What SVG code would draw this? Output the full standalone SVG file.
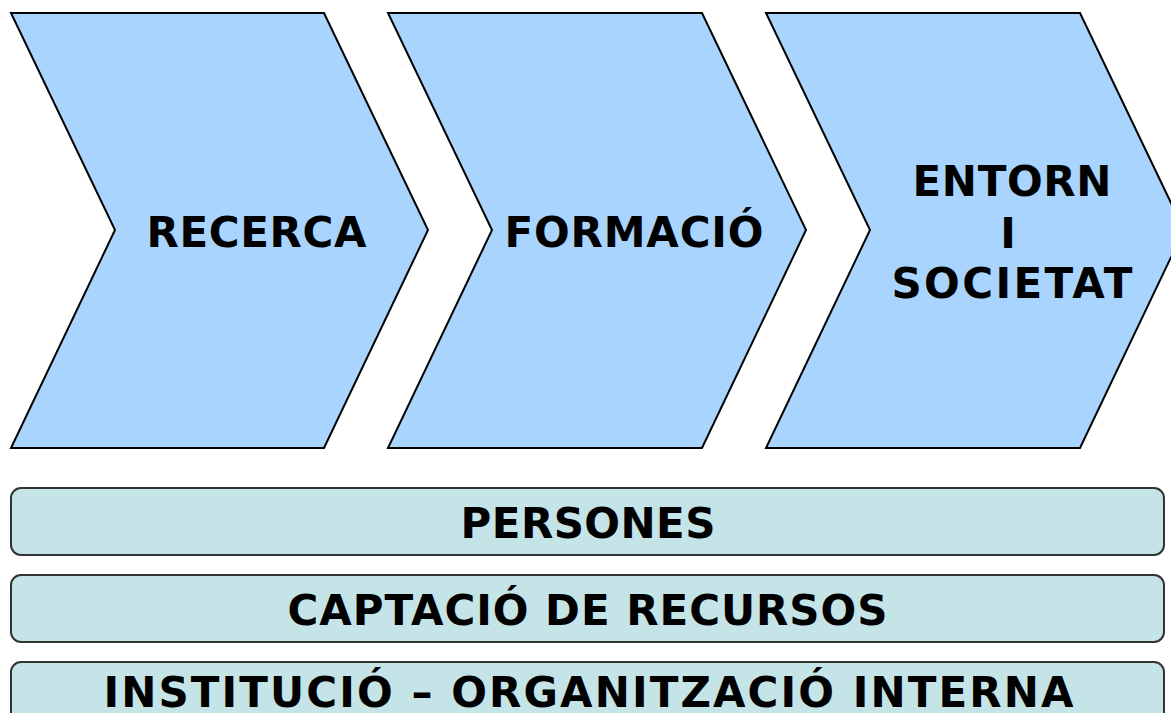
<svg xmlns="http://www.w3.org/2000/svg" width="1171" height="713" viewBox="0 0 1171 713">
<style>
.chev{fill:#a8d4fe;stroke:#000;stroke-width:2;stroke-linejoin:miter}
.bar{fill:#c5e4e8;stroke:#333;stroke-width:2}
text{font-family:"DejaVu Sans",Verdana,sans-serif;font-weight:bold;font-size:42px;fill:#000;text-anchor:middle}
</style>
<rect width="1171" height="713" fill="#fff"/>
<g id="recerca">
<polygon class="chev" points="11,13 324,13 428,230 324,448 11,448 115,230"/>
<text x="256.5" y="247" textLength="220" lengthAdjust="spacing">RECERCA</text>
</g>
<g id="formacio">
<polygon class="chev" points="388,13 702,13 806,230 702,448 388,448 492,230"/>
<text x="634" y="247" textLength="259" lengthAdjust="spacing">FORMACIÓ</text>
</g>
<g id="entorn">
<polygon class="chev" points="766,13 1080,13 1184,230 1080,448 766,448 870,230"/>
<text x="1012" y="196" textLength="199" lengthAdjust="spacing">ENTORN</text>
<text x="1008" y="248">I</text>
<text x="1012" y="298" textLength="241" lengthAdjust="spacing">SOCIETAT</text>
</g>
<g id="persones">
<rect class="bar" x="11" y="488" width="1153" height="67" rx="10"/>
<text x="588" y="538" textLength="255" lengthAdjust="spacing">PERSONES</text>
</g>
<g id="captacio">
<rect class="bar" x="11" y="575" width="1153" height="67" rx="10"/>
<text x="587.5" y="625" textLength="600" lengthAdjust="spacing">CAPTACIÓ DE RECURSOS</text>
</g>
<g id="institucio">
<rect class="bar" x="11" y="662" width="1153" height="67" rx="10"/>
<text x="588.5" y="707" textLength="970" lengthAdjust="spacing">INSTITUCIÓ – ORGANITZACIÓ INTERNA</text>
</g>
<g id="connectors"></g>
</svg>
